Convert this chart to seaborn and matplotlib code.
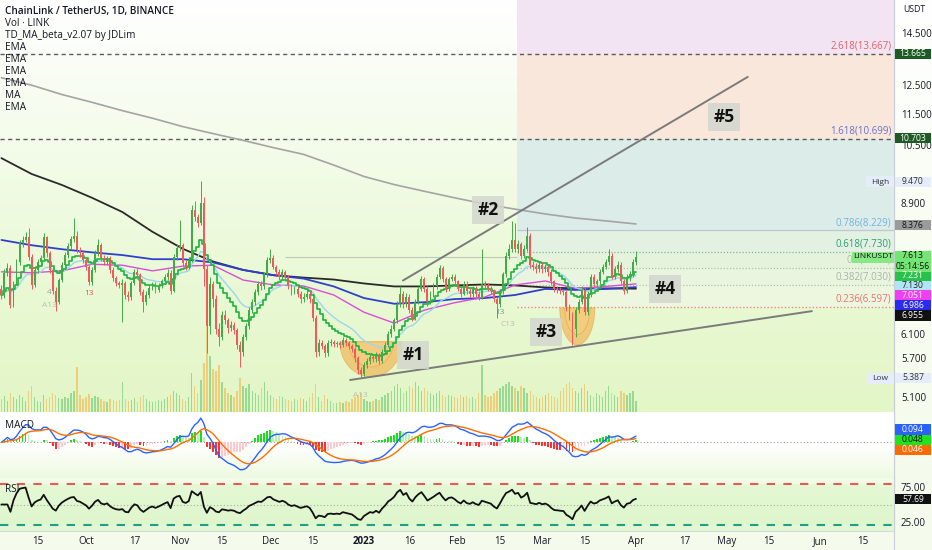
import numpy as np
import pandas as pd
import matplotlib
matplotlib.use("Agg")
import matplotlib.pyplot as plt
from matplotlib.colors import LinearSegmentedColormap
from matplotlib.patches import Rectangle, Polygon
from matplotlib.lines import Line2D
from matplotlib.ticker import FixedLocator, NullLocator, FuncFormatter
import matplotlib.transforms as mtrans
import seaborn as sns

W, H = 932, 550

# ---------------- data ----------------
start = pd.Timestamp("2022-09-03")
first_open = 6.95

close = [6.83, 7.28, 7.39, 6.64, 7.07, 7.50, 7.92, 8.00, 8.06, 7.61,
         7.03, 7.34, 7.50, 7.59, 8.06, 7.70, 7.34, 6.91, 6.69, 7.13,
         7.44, 7.66, 7.86, 8.03, 8.08, 7.77, 7.70, 7.55, 7.40, 7.09,
         7.34, 7.70, 7.88, 7.59, 7.50, 7.59, 7.34, 7.17, 7.07, 7.03,
         7.07, 6.83, 6.79, 7.07, 7.30, 7.23, 6.89, 6.69, 6.83, 6.97,
         7.03, 6.93, 7.01, 7.10, 7.20, 7.28, 6.91, 7.61, 7.81, 7.88,
         7.48, 7.40, 7.55, 8.72, 8.55, 8.40, 8.90, 7.35, 6.25, 7.05,
         6.75, 6.20, 6.05, 6.45, 6.35, 6.22, 6.27, 6.18, 5.92, 5.80,
         6.05, 6.25, 6.55, 6.70, 6.88, 7.05, 7.00, 7.25, 7.55, 7.60,
         7.40, 7.30, 7.20, 7.30, 7.20, 7.00, 6.90, 6.95, 6.85, 6.75,
         6.80, 6.85, 6.75, 6.40, 5.80, 5.95, 5.90, 5.78, 5.95, 5.97,
         5.93, 5.95, 5.92, 6.00, 5.95, 5.90, 5.85, 5.70, 5.50, 5.45,
         5.58, 5.65, 5.72, 5.68, 5.75, 5.65, 5.80, 5.92, 6.10, 6.20,
         6.35, 6.65, 6.85, 6.65, 6.80, 6.55, 6.40, 6.70, 6.95, 7.15,
         6.95, 6.70, 6.85, 7.00, 7.20, 7.38, 7.15, 6.95, 7.15, 7.20,
         7.10, 6.95, 6.85, 7.05, 6.90, 6.85, 6.95, 6.85, 6.80, 7.05,
         7.00, 6.95, 6.90, 6.75, 6.65, 6.90, 7.25, 7.65, 7.80, 8.00,
         7.80, 7.90, 7.65, 7.80, 8.10, 7.45, 7.40, 7.35, 7.45, 7.35,
         7.40, 7.30, 7.10, 6.95, 6.93, 6.90, 6.88, 6.60, 6.45, 6.20,
         6.55, 6.70, 6.93, 6.50, 6.85, 7.20, 7.05, 7.10, 7.30, 7.40,
         7.50, 7.65, 7.20, 7.35, 7.45, 7.10, 6.90, 7.20, 7.25, 7.50,
         7.613]

high = [7.02, 7.35, 7.48, 7.45, 7.12, 7.58, 8.00, 8.10, 8.18, 8.28,
        7.68, 7.40, 7.58, 7.66, 8.15, 8.10, 7.75, 7.40, 6.98, 7.18,
        7.50, 7.72, 7.94, 8.10, 8.52, 8.20, 7.85, 7.76, 7.60, 7.45,
        7.40, 7.78, 8.02, 7.92, 7.66, 7.65, 7.63, 7.40, 7.22, 7.12,
        7.15, 7.12, 6.90, 7.12, 7.36, 7.38, 7.28, 6.94, 6.90, 7.03,
        7.09, 7.08, 7.07, 7.16, 7.26, 7.36, 7.33, 7.68, 7.90, 8.47,
        7.92, 7.55, 7.62, 8.85, 8.95, 8.62, 9.47, 9.05, 7.45, 7.20,
        7.12, 6.82, 6.30, 6.52, 6.55, 6.40, 6.33, 6.32, 6.22, 5.98,
        6.10, 6.30, 6.60, 6.76, 6.94, 7.12, 7.10, 7.30, 7.62, 7.80,
        7.66, 7.45, 7.36, 7.35, 7.34, 7.24, 7.05, 7.00, 7.00, 6.90,
        6.86, 6.92, 6.90, 6.80, 6.45, 6.02, 6.00, 5.94, 6.00, 6.02,
        6.00, 5.99, 5.98, 6.05, 6.04, 5.99, 5.94, 5.88, 5.74, 5.56,
        5.63, 5.70, 5.77, 5.76, 5.80, 5.78, 5.85, 5.97, 6.15, 6.26,
        6.40, 6.72, 7.00, 6.90, 6.86, 6.84, 6.60, 6.76, 7.00, 7.22,
        7.20, 7.00, 6.90, 7.06, 7.26, 7.45, 7.42, 7.20, 7.20, 7.26,
        7.25, 7.14, 7.00, 7.10, 7.10, 6.96, 7.00, 7.00, 6.90, 7.80,
        7.12, 7.06, 7.00, 6.95, 6.80, 6.95, 7.30, 7.72, 7.90, 8.45,
        8.40, 8.00, 7.95, 7.88, 8.30, 8.15, 7.52, 7.48, 7.52, 7.50,
        7.47, 7.45, 7.35, 7.14, 7.00, 6.98, 6.95, 6.92, 6.65, 6.50,
        6.60, 6.76, 7.00, 6.98, 6.90, 7.26, 7.25, 7.16, 7.36, 7.47,
        7.58, 7.80, 7.70, 7.42, 7.52, 7.50, 7.15, 7.25, 7.32, 7.58,
        7.75]

low = [6.75, 6.78, 7.22, 6.58, 6.60, 7.02, 7.45, 7.85, 7.95, 7.55,
       6.95, 6.98, 7.28, 7.42, 7.55, 7.62, 7.28, 6.85, 6.52, 6.65,
       7.08, 7.38, 7.60, 7.80, 7.96, 7.70, 7.62, 7.48, 7.33, 7.02,
       7.03, 7.30, 7.64, 7.52, 7.44, 7.45, 7.28, 7.10, 7.00, 6.96,
       6.32, 6.76, 6.72, 6.74, 7.02, 7.15, 6.82, 6.50, 6.64, 6.78,
       6.92, 6.87, 6.88, 6.96, 7.05, 7.14, 6.85, 6.88, 7.56, 7.75,
       7.42, 7.33, 7.35, 7.50, 8.45, 8.30, 8.35, 7.00, 5.78, 6.10,
       6.60, 6.10, 5.90, 6.00, 6.28, 6.12, 6.15, 6.10, 5.85, 5.55,
       5.74, 6.00, 6.20, 6.48, 6.64, 6.82, 6.93, 6.95, 7.20, 7.48,
       7.35, 7.24, 7.14, 7.15, 7.12, 6.94, 6.83, 6.85, 6.80, 6.68,
       6.70, 6.75, 6.68, 6.33, 5.72, 5.74, 5.84, 5.72, 5.74, 5.90,
       5.88, 5.89, 5.87, 5.88, 5.90, 5.85, 5.80, 5.64, 5.45, 5.387,
       5.41, 5.53, 5.60, 5.63, 5.64, 5.60, 5.62, 5.76, 5.88, 6.05,
       6.15, 6.30, 6.60, 6.58, 6.60, 6.48, 6.34, 6.36, 6.65, 6.90,
       6.88, 6.62, 6.65, 6.80, 6.95, 7.15, 7.08, 6.88, 6.90, 7.10,
       7.04, 6.90, 6.80, 6.82, 6.85, 6.80, 6.80, 6.80, 6.74, 6.76,
       6.94, 6.90, 6.85, 6.70, 6.40, 6.60, 6.85, 7.20, 7.58, 7.72,
       7.72, 7.70, 7.58, 7.60, 7.75, 7.38, 7.33, 7.28, 7.30, 7.28,
       7.30, 7.22, 7.02, 6.88, 6.87, 6.84, 6.82, 6.52, 6.35, 5.92,
       6.05, 6.48, 6.65, 6.44, 6.45, 6.80, 6.98, 6.98, 7.05, 7.25,
       7.35, 7.45, 7.15, 7.15, 7.30, 7.05, 6.85, 6.86, 7.12, 7.20,
       7.45]

volume = [12, 15, 10, 18, 14, 12, 16, 14, 10, 20,
          24, 14, 10, 9, 16, 12, 14, 18, 16, 13,
          12, 14, 13, 18, 20, 42, 16, 12, 14, 17,
          13, 15, 14, 12, 10, 9, 12, 11, 10, 11,
          28, 12, 10, 11, 13, 9, 14, 16, 12, 10,
          9, 10, 11, 10, 12, 14, 16, 20, 18, 16,
          12, 10, 14, 36, 24, 18, 30, 46, 80, 52,
          40, 38, 44, 28, 22, 18, 16, 14, 20, 32,
          24, 22, 26, 20, 18, 16, 22, 28, 20, 16,
          14, 12, 15, 14, 12, 11, 10, 12, 11, 13,
          12, 10, 14, 18, 26, 14, 10, 16, 12, 10,
          8, 8, 9, 8, 10, 9, 12, 14, 16, 18,
          12, 10, 9, 10, 12, 11, 14, 16, 18, 20,
          24, 26, 22, 18, 20, 24, 22, 28, 24, 20,
          22, 20, 18, 16, 18, 20, 16, 14, 16, 15,
          14, 13, 16, 14, 15, 13, 14, 12, 18, 44,
          16, 14, 15, 18, 20, 22, 24, 26, 28, 24,
          22, 20, 24, 22, 18, 20, 16, 14, 12, 14,
          16, 18, 15, 14, 13, 20, 22, 26, 28, 22,
          20, 18, 22, 26, 20, 16, 14, 18, 16, 14,
          20, 24, 18, 16, 14, 20, 18, 16, 18, 20,
          10]

# long moving averages, sampled every 10 bars
ma_step = 10
ma_black = [10.12, 9.67, 9.37, 9.03, 8.67, 8.19, 7.80, 7.52, 7.34, 7.23, 7.18,
            7.14, 7.06, 7.00, 7.00, 7.02, 7.04, 7.02, 6.98, 6.96, 6.96, 6.955]
ma_grey = [12.75, 12.48, 12.15, 11.88, 11.60, 11.35, 11.08, 10.86, 10.65, 10.43, 10.23,
           9.92, 9.60, 9.38, 9.20, 9.03, 8.87, 8.74, 8.62, 8.52, 8.45, 8.376]
ema_blue = [8.00, 7.88, 7.79, 7.72, 7.66, 7.57, 7.57, 7.50, 7.34, 7.23, 7.16,
            7.00, 6.77, 6.66, 6.69, 6.75, 6.77, 6.83, 6.95, 6.93, 6.95, 6.986]
ema_magenta = [7.30, 7.28, 7.32, 7.46, 7.44, 7.32, 7.42, 7.44, 7.13, 7.03, 7.01,
               6.83, 6.50, 6.30, 6.54, 6.68, 6.79, 7.03, 7.11, 6.96, 7.00, 7.051]

fib_ratio = ["2.618", "1.618", "0.786", "0.618", "0.5", "0.382", "0.236"]
fib_price = [13.667, 10.699, 8.229, 7.730, 7.380, 7.030, 6.597]
fib_start = 170.6

price_ticks = [5.1, 5.7, 6.1, 8.9, 10.5, 11.5, 12.5, 14.5]

tick_dates = ["2022-09-15", "2022-10-01", "2022-10-17", "2022-11-01", "2022-11-15",
              "2022-12-01", "2022-12-15", "2023-01-01", "2023-01-16", "2023-02-01",
              "2023-02-15", "2023-03-01", "2023-03-15", "2023-04-01", "2023-04-17",
              "2023-05-01", "2023-05-15", "2023-06-01", "2023-06-15"]
tick_labels = ["15", "Oct", "17", "Nov", "15", "Dec", "15", "2023", "16", "Feb",
               "15", "Mar", "15", "Apr", "17", "May", "15", "Jun", "15"]

# drawings: (bar index, price)
trend_low = [(115.4, 5.35), (268.2, 6.52)]
trend_high = [(132.9, 7.12), (247.0, 12.78)]
notes = [("#1", 136.2, 5.75), ("#2", 161.0, 8.72), ("#3", 180.2, 6.14),
         ("#4", 219.6, 6.95), ("#5", 239.1, 11.39)]
cups = [(122.3, 10.3, 5.97, 5.40), (190.6, 5.8, 6.58, 5.92)]
td_marks = [("4", 16, 6.87, "#97a397"), ("A13", 16, 6.62, "#b7bfb7"),
            ("13", 29, 6.85, "#e25454"), ("A13", 118.7, 5.12, "#b7bfb7"),
            ("13", 165, 6.50, "#7aa08a"), ("C13", 167.6, 6.28, "#b7bfb7")]

XMIN, XMAX = -0.46, 295.4
PMIN, PMAX = 4.88, 15.94
UP, DOWN = "#42ab47", "#f05a5a"

# ---------------- derived indicators ----------------
n = len(close)
x = np.arange(n)
c = np.array(close)
o = np.array([first_open] + close[:-1])
hi = np.array(high)
lo = np.array(low)
up = c >= o
cs = pd.Series(c)
ema_fast = cs.ewm(span=12, adjust=False).mean()
ema_light = cs.ewm(span=21, adjust=False).mean()
macd = cs.ewm(span=12, adjust=False).mean() - cs.ewm(span=26, adjust=False).mean()
signal = macd.ewm(span=9, adjust=False).mean()
hist = macd - signal
delta = cs.diff().fillna(0)
gain = delta.clip(lower=0).ewm(alpha=1 / 14, adjust=False).mean()
loss = (-delta.clip(upper=0)).ewm(alpha=1 / 14, adjust=False).mean()
rsi = (100 - 100 / (1 + gain / loss.replace(0, np.nan))).fillna(50)

# ---------------- figure ----------------
sns.set_theme(style="white")
plt.rcParams["font.family"] = ["Open Sans", "DejaVu Sans"]
plt.rcParams["axes.linewidth"] = 0.8

fig = plt.figure(figsize=(W / 100, H / 100), dpi=100)


def gradient(axis, colors, extent):
    cmap = LinearSegmentedColormap.from_list("g", colors)
    axis.imshow(np.linspace(0, 1, 256).reshape(-1, 1), aspect="auto", cmap=cmap,
                origin="lower", extent=extent, zorder=0, interpolation="bicubic")


def pane(top, bottom, **kw):
    return fig.add_axes([0, 1 - bottom / H, 894 / W, (bottom - top) / H], **kw)


def no_axis_labels(axis):
    axis.set_xlabel("")
    axis.set_ylabel("")
    axis.xaxis.label.set_visible(False)
    axis.yaxis.label.set_visible(False)


bg = fig.add_axes([0, 0, 1, 1], zorder=-5)
gradient(bg, ["#f4fbec", "#f7fdf0", "#ffffff"], [0, 1, 0, 1])
bg.set_xlim(0, 1)
bg.set_ylim(0, 1)
bg.axis("off")

# volume + background of the price pane
VTOP = 80 * 4.8
ax_vol = pane(0, 412, zorder=0)
gradient(ax_vol, ["#e3f6c6", "#eaf9d6", "#f4fceb", "#ffffff"], [XMIN, XMAX, 0, VTOP])
ax_vol.bar(x, volume, width=0.45, color=np.where(up, "#86d386", "#f2c467"), alpha=0.8, lw=0)
ax_vol.set_xlim(XMIN, XMAX)
ax_vol.set_ylim(0, VTOP)
ax_vol.axis("off")

ax = pane(0, 412, zorder=2)
ax.set_facecolor("none")
ax.set_yscale("log")
ax.set_xlim(XMIN, XMAX)
ax.set_ylim(PMIN, PMAX)

# fib zones
zone_colors = ["#f3e4f4", "#f9e7dc", "#dcece9", "#e2f1e2", "#e6f3dc", "#e9f5de", "#edf7df"]
tops = [PMAX] + fib_price[:-1]
for (ztop, zbot, zc) in zip(tops, fib_price, zone_colors):
    ax.fill_between([fib_start, XMAX], zbot, ztop, color=zc, lw=0, zorder=0.5)

line_styles = [("#5b5b5b", (0, (3, 2.5)), 1.0), ("#5b5b5b", (0, (3, 2.5)), 1.0),
               ("#bcc9d0", "-", 0.9), ("#7db99b", (0, (1, 1.5)), 0.9),
               ("#a9c2a9", (0, (1, 1.5)), 0.9), ("#b3bdb3", (0, (1, 1.5)), 0.9),
               ("#ee8a8a", (0, (1, 1.5)), 1.0)]
label_colors = ["#e06262", "#6a70c8", "#72b3e2", "#2e9e72", "#a7c0a7", "#a8b4a8", "#e57373"]
lab_tr = mtrans.blended_transform_factory(ax.transAxes, ax.transData)
for k, (r, p) in enumerate(zip(fib_ratio, fib_price)):
    col, ls, lw = line_styles[k]
    x0 = XMIN if k < 2 else fib_start
    ax.hlines(p, x0, XMAX, color=col, ls=ls, lw=lw, zorder=1)
    ax.text(0.997, p * 1.006, f"{r}({p:.3f})", transform=lab_tr, ha="right", va="bottom",
            fontsize=7, color=label_colors[k], zorder=6)

ax.hlines(7.613, 94, fib_start, color="#bcc8bc", lw=0.8, zorder=1)

# cups
for cx, rx, ptop, pbot in cups:
    t = np.linspace(0, np.pi, 60)
    for scale, fc, al in [(1.0, "#f4a638", 0.55), (0.72, "#f9cf85", 0.55)]:
        xs = cx + rx * scale * np.cos(t)
        ys = np.exp(np.log(ptop) - (np.log(ptop) - np.log(pbot)) * scale * np.sin(t))
        ax.add_patch(Polygon(np.column_stack([xs, ys]), closed=True, fc=fc, ec="#e89a30",
                             lw=0.6, alpha=al, zorder=1.5))

# moving averages
ma_x = np.arange(0, n, ma_step)
sns.lineplot(x=ma_x, y=ma_grey, ax=ax, color="#a4a4a4", lw=1.2, zorder=2)
sns.lineplot(x=ma_x, y=ma_black, ax=ax, color="#2a2a2a", lw=1.3, zorder=2)
sns.lineplot(x=ma_x, y=ema_blue, ax=ax, color="#3040cc", lw=1.3, zorder=2)
sns.lineplot(x=ma_x, y=ema_magenta, ax=ax, color="#d94ed9", lw=1.0, zorder=2)
sns.lineplot(x=x, y=ema_light, ax=ax, color="#9dd6ef", lw=1.0, zorder=2)
sns.lineplot(x=x, y=ema_fast, ax=ax, color="#1fb33e", lw=1.2, zorder=2.5, drawstyle="steps-mid")

# candles
col = np.where(up, UP, DOWN)
ax.vlines(x, lo, hi, colors=col, lw=0.7, zorder=4)
ax.bar(x, np.maximum(np.abs(c - o), 0.012), bottom=np.minimum(o, c), width=0.64,
       color=col, lw=0, zorder=5)

# trend lines
for seg in (trend_low, trend_high):
    ax.plot([seg[0][0], seg[1][0]], [seg[0][1], seg[1][1]], color="#7b7b7b", lw=1.4, zorder=6)

for label, nx, npx in notes:
    ax.text(nx, npx, label, ha="center", va="center", fontsize=12.5, fontweight="bold",
            color="#111111", zorder=8,
            bbox=dict(boxstyle="square,pad=0.3", fc="#d2d7ce", ec="none", alpha=0.85))

for label, tx, tp, tc in td_marks:
    ax.text(tx, tp, label, ha="center", va="center", fontsize=6, color=tc, zorder=6)

ax.yaxis.tick_right()
ax.yaxis.set_major_locator(FixedLocator(price_ticks))
ax.yaxis.set_minor_locator(NullLocator())
ax.yaxis.set_major_formatter(FuncFormatter(lambda v, _: f"{v:.3f}"))
ax.tick_params(axis="y", length=0, labelsize=7, pad=5, colors="#131722")
ax.set_xticks([])
for s in ["top", "left"]:
    ax.spines[s].set_visible(False)
ax.spines["right"].set_color("#c9cdd6")
ax.spines["bottom"].set_color("#e0e3eb")
no_axis_labels(ax)

# ---------------- MACD ----------------
ax_m = pane(412, 478, zorder=2)
k = max(macd.max() / 24, -macd.min() / 28)
m_lo, m_hi = -35 * k, 30 * k
gradient(ax_m, ["#edfae0", "#ffffff", "#ffffff"], [XMIN, XMAX, m_lo, m_hi])
prev = hist.shift(1).fillna(0)
hcol = np.where(hist >= 0, np.where(hist >= prev, "#19e019", "#b5f2b5"),
                np.where(hist < prev, "#ff3030", "#ffc9cf"))
ax_m.bar(x, hist, width=0.6, color=hcol, lw=0, zorder=2)
ax_m.axhline(0, color="#9aa39a", ls=(0, (1, 2)), lw=0.8, zorder=1)
sns.lineplot(x=x, y=macd, ax=ax_m, color="#2962ff", lw=1.0, zorder=3)
sns.lineplot(x=x, y=signal, ax=ax_m, color="#ff6d00", lw=1.0, zorder=3)
ax_m.set_xlim(XMIN, XMAX)
ax_m.set_ylim(m_lo, m_hi)
ax_m.set_xticks([])
ax_m.set_yticks([])
for s in ["top", "left"]:
    ax_m.spines[s].set_visible(False)
ax_m.spines["right"].set_color("#c9cdd6")
ax_m.spines["bottom"].set_color("#e0e3eb")
no_axis_labels(ax_m)

# ---------------- RSI ----------------
ax_r = pane(478, 531, zorder=2)
gradient(ax_r, ["#e2f8d2", "#e6f9d8", "#f2fce9"], [XMIN, XMAX, 12, 88])
ax_r.axhspan(20, 80, color="#dcf6c9", alpha=0.55, lw=0, zorder=0.5)
ax_r.axhline(80, color="#e65a5a", ls=(0, (4, 4)), lw=1.5, zorder=1)
ax_r.axhline(50, color="#a6aea6", ls=(0, (1, 2)), lw=0.8, zorder=1)
ax_r.axhline(20, color="#1f9f8a", ls=(0, (4, 4)), lw=1.5, zorder=1)
sns.lineplot(x=x, y=rsi, ax=ax_r, color="#111111", lw=1.3, zorder=3)
ax_r.set_xlim(XMIN, XMAX)
ax_r.set_ylim(12, 88)
ax_r.yaxis.tick_right()
ax_r.set_yticks([25, 75])
ax_r.set_yticklabels(["25.00", "75.00"])
ax_r.tick_params(axis="y", length=0, labelsize=7, pad=5, colors="#131722")
pos = (pd.to_datetime(tick_dates) - start).days
ax_r.set_xticks(pos)
ax_r.set_xticklabels(tick_labels)
ax_r.tick_params(axis="x", length=0, labelsize=7, pad=3.5, colors="#131722")
for t in ax_r.get_xticklabels():
    if t.get_text() == "2023":
        t.set_fontweight("bold")
for s in ["top", "left"]:
    ax_r.spines[s].set_visible(False)
ax_r.spines["right"].set_color("#c9cdd6")
ax_r.spines["bottom"].set_color("#d5d9e0")
no_axis_labels(ax_r)

fig.add_artist(Line2D([894 / W, 894 / W], [0, 1], transform=fig.transFigure,
                      color="#c9cdd6", lw=0.8))

# ---------------- labels and price boxes ----------------
def px_box(x0, ypix, w, h, fc, lines, tc, size=6.2):
    fig.add_artist(Rectangle((x0 / W, 1 - (ypix + h / 2) / H), w / W, h / H,
                             transform=fig.transFigure, fc=fc, ec="none", zorder=30))
    step = h / len(lines)
    for i, txt in enumerate(lines):
        yy = ypix - h / 2 + step * (i + 0.5)
        fig.text((x0 + w / 2) / W, 1 - yy / H, txt, ha="center", va="center",
                 fontsize=size, color=tc, zorder=31)


boxes = [(54, "13.665", "#1e5b24", "white"), (138, "10.703", "#1e5b24", "white"),
         (182, "9.470", "#e4edf9", "#333333"), (225, "8.376", "#9b9b9b", "#111111"),
         (276, "7.231", "#27c24a", "white"), (286, "7.130", "#b2e4f7", "#222222"),
         (295.5, "7.051", "#f03ff0", "white"), (305.5, "6.986", "#2b2bf0", "white"),
         (315.5, "6.955", "#111111", "white"), (378, "5.387", "#e4edf9", "#333333"),
         (429.5, "0.094", "#2962ff", "white"), (440, "0.048", "#1ee31e", "#111111"),
         (450, "0.046", "#ff6a00", "white"), (499, "57.69", "#111111", "white")]
for yp, txt, fc, tc in boxes:
    px_box(895, yp, 36, 10.5, fc, [txt], tc)

px_box(895, 261, 36, 21, "#72e572", ["7.613", "05:14:56"], "#111111")
px_box(852, 257, 42, 11, "#86e986", ["LINKUSDT"], "#111111", size=6.0)
px_box(866, 182, 28, 11, "#e4edf9", ["High"], "#333333", size=6.0)
px_box(867, 378, 27, 11, "#e4edf9", ["Low"], "#333333", size=6.0)

fig.text(903 / W, 1 - 10 / H, "USDT", fontsize=6.3, color="#131722", va="center")

legend = [("ChainLink / TetherUS, 1D, BINANCE", 11.7), ("Vol · LINK", 24),
          ("TD_MA_beta_v2.07 by JDLim", 35.7), ("EMA", 47.7), ("EMA", 60),
          ("EMA", 71.7), ("EMA", 83.5), ("MA", 95.7), ("EMA", 107.5)]
for i, (txt, yp) in enumerate(legend):
    fig.text(5 / W, 1 - yp / H, txt, fontsize=7.2, va="center", color="#131722",
             fontweight="semibold" if i == 0 else "normal", zorder=20)

fig.text(5 / W, 1 - 425 / H, "MACD", fontsize=7.2, va="center", color="#131722", zorder=20)
fig.text(5 / W, 1 - 490 / H, "RSI", fontsize=7.2, va="center", color="#131722", zorder=20)

fig.savefig("out.png", dpi=100)
